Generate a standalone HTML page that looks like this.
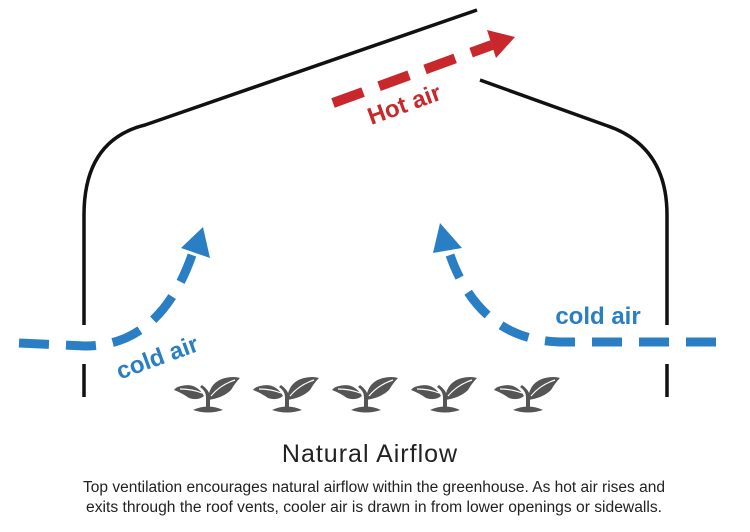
<!DOCTYPE html>
<html><head><style>
body{margin:0;background:#fff;width:750px;height:527px;overflow:hidden;font-family:"Liberation Sans",sans-serif}
</style></head><body>
<svg width="750" height="527" viewBox="0 0 750 527" xmlns="http://www.w3.org/2000/svg">
<defs>
<g id="p">
<path d="M-15 31 Q0 24 15 31 Q0 36 -15 31Z" fill="#555"/>
<path d="M-2 29 L-2 18 Q-2 12 -8 8 L-6 6 Q1 11 2 17 L2 29Z" fill="#555"/>
<path d="M0 21 Q1 3 17 -1 Q26 -3 32 -1 Q27 4 23 11 Q15 19 0 21Z" fill="#555"/>
<path d="M-4 17 Q-12 3 -27 7 Q-32 8 -34 11 Q-26 14 -19 19 Q-10 22 -4 17Z" fill="#555"/>
<path d="M3 17 Q12 6 27 1" stroke="#fff" stroke-width="1.2" fill="none"/>
<path d="M-6 14 Q-16 10 -28 10" stroke="#fff" stroke-width="1.2" fill="none"/>
</g>
</defs>
<g stroke="#111" stroke-width="3.5" fill="none">
<path d="M84 325 L84 215 Q84 140 145 125 L477 10"/>
<path d="M84 364 L84 397"/>
<path d="M480 80 L605 125 Q667 145 667 215 L667 325"/>
<path d="M667 364 L667 397"/>
</g>
<g stroke="#2a7fc4" stroke-width="9" fill="none" stroke-dasharray="30 17">
<path d="M19 343 L85 346 Q160 346 192 255"/>
<path d="M716 342 L560 342 Q480 340 450 255"/>
</g>
<polygon points="203,227 210,258 181,248" fill="#2a7fc4"/>
<polygon points="440,223 462,248 433,253" fill="#2a7fc4"/>
<path d="M333 103 L492 45" stroke="#c8282c" stroke-width="10" fill="none" stroke-dasharray="32 17"/>
<polygon points="515,37 487,30 496,58" fill="#c8282c"/>
<text x="0" y="0" transform="translate(407,112) rotate(-20)" text-anchor="middle" font-size="24" font-weight="bold" fill="#c8282c">Hot air</text>
<text x="0" y="0" transform="translate(160,365) rotate(-20)" text-anchor="middle" font-size="24" font-weight="bold" fill="#2a7fc4">cold air</text>
<text x="598" y="324" text-anchor="middle" font-size="24" font-weight="bold" fill="#2a7fc4">cold air</text>
<use href="#p" x="208" y="379"/>
<use href="#p" x="287" y="379"/>
<use href="#p" x="366" y="379"/>
<use href="#p" x="445" y="379"/>
<use href="#p" x="528" y="379"/>
<text x="370" y="462" text-anchor="middle" font-size="25" fill="#222" letter-spacing="1">Natural Airflow</text>
<text x="374" y="492" text-anchor="middle" font-size="15.3" fill="#222" textLength="582" lengthAdjust="spacingAndGlyphs">Top ventilation encourages natural airflow within the greenhouse. As hot air rises and</text>
<text x="374" y="512" text-anchor="middle" font-size="15.3" fill="#222" textLength="576" lengthAdjust="spacingAndGlyphs">exits through the roof vents, cooler air is drawn in from lower openings or sidewalls.</text>
</svg>
</body></html>
